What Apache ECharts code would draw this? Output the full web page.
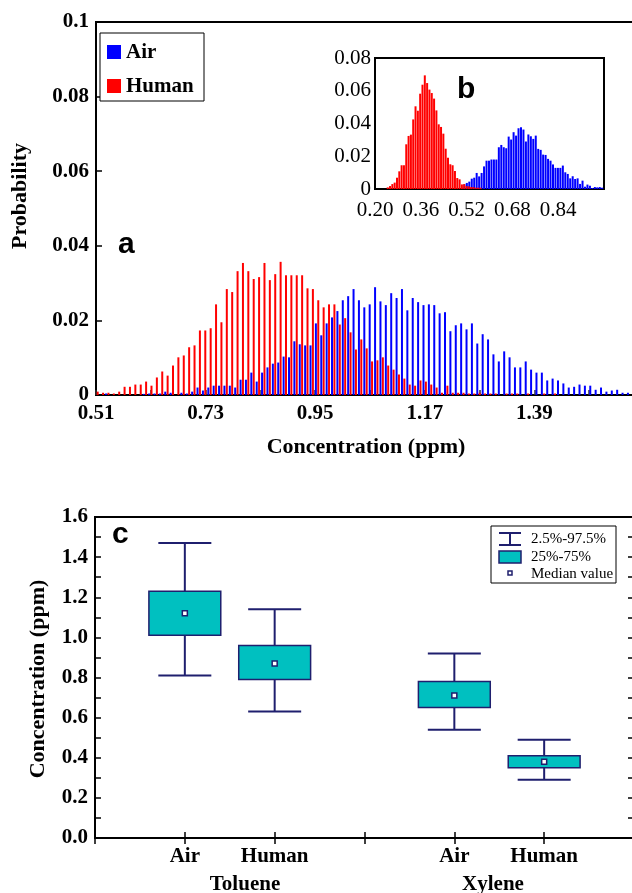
<!DOCTYPE html>
<html>
<head>
<meta charset="utf-8">
<script src="https://cdn.jsdelivr.net/npm/echarts@6/dist/echarts.min.js"></script>
<style>
html,body{margin:0;padding:0;background:#fff;}
#chart{width:632px;height:893px;}
</style>
</head>
<body>
<div id="chart"></div>
<script>
// ---------------- DATA ----------------
// Panel a: histogram bins (ppm) and probabilities
const binStartA = 0.511;
const binWidthA = 0.0108;
const humanA = [0.0009,0.0006,0.0006,0.0004,0.0009,0.0022,0.0022,0.0028,0.0028,0.0036,
  0.0025,0.0047,0.0063,0.0052,0.0079,0.0101,0.0106,0.0128,0.0133,0.0173,
  0.0173,0.0179,0.0243,0.0195,0.0284,0.0276,0.0332,0.0354,0.0332,0.0311,
  0.0316,0.0354,0.0308,0.0324,0.0357,0.0321,0.0321,0.0321,0.0321,0.0286,
  0.0284,0.0254,0.0235,0.0243,0.0243,0.0189,0.0206,0.0168,0.0122,0.0149,
  0.0125,0.0090,0.0093,0.0101,0.0079,0.0068,0.0055,0.0044,0.0028,0.0025,
  0.0039,0.0036,0.0028,0.0020,0.0006,0.0025,0.0006,0.0006,0.0006,0.0004,
  0.0004,0.0006,0.0004,0.0004,0.0004,0,0.0004,0.0004,0.0004,0,
  0.0004,0,0,0.0004,0,0.0004,0,0,0,0,
  0,0,0,0,0,0,0,0,0];
const airA = [0,0.0004,0,0,0,0,0,0,0.0003,0.0004,
  0.0004,0.0004,0.0009,0.0006,0,0.0006,0.0004,0.0009,0.0020,0.0012,
  0.0020,0.0025,0.0025,0.0025,0.0025,0.0020,0.0041,0.0041,0.0060,0.0036,
  0.0060,0.0074,0.0084,0.0087,0.0103,0.0101,0.0144,0.0136,0.0133,0.0133,
  0.0192,0.0160,0.0192,0.0208,0.0225,0.0254,0.0265,0.0284,0.0254,0.0235,
  0.0243,0.0289,0.0251,0.0241,0.0273,0.0260,0.0284,0.0227,0.0260,0.0249,
  0.0241,0.0243,0.0241,0.0219,0.0222,0.0171,0.0187,0.0192,0.0176,0.0192,
  0.0138,0.0163,0.0149,0.0109,0.0090,0.0117,0.0101,0.0074,0.0074,0.0090,
  0.0068,0.0060,0.0060,0.0039,0.0044,0.0039,0.0031,0.0020,0.0022,0.0028,
  0.0025,0.0025,0.0014,0.0020,0.0009,0.0012,0.0014,0.0006,0.0006];
const axisMinA = 0.51;

// Panel b (inset): histograms
const humanBStart = 0.2444, humanBWidth = 0.0081;
const humanB = [0.0010,0.0018,0.0030,0.0039,0.0069,0.0108,0.0145,0.0145,0.0273,0.0324,
  0.0332,0.0425,0.0505,0.0478,0.0582,0.0637,0.0694,0.0647,0.0607,0.0586,
  0.0552,0.0480,0.0395,0.0379,0.0338,0.0246,0.0191,0.0151,0.0145,0.0110,
  0.0067,0.0059,0.0028,0.0030,0.0018,0.0016,0.0012,0.0012,0.0008,0.0008,0.0008];
const airBStart = 0.5122, airBWidth = 0.0086;
const airB = [0.0028,0.0037,0.0045,0.0063,0.0069,0.0098,0.0077,0.0098,0.0138,0.0173,
  0.0173,0.0180,0.0180,0.0180,0.0255,0.0269,0.0255,0.0249,0.0320,0.0302,
  0.0347,0.0326,0.0371,0.0377,0.0363,0.0290,0.0333,0.0322,0.0306,0.0326,
  0.0245,0.0239,0.0210,0.0208,0.0184,0.0173,0.0150,0.0129,0.0129,0.0129,
  0.0143,0.0102,0.0092,0.0065,0.0078,0.0061,0.0065,0.0031,0.0051,0.0014,
  0.0027,0.0020,0.0006,0.0012,0.0010,0.0012,0.0008];
const axisMinB = 0.20;

// Panel c: box plot
const catsC = ['', 'Air', 'Human', '', 'Air', 'Human', ''];
const groupsC = ['Toluene', 'Xylene'];
// [category index, 2.5%, 25%, median, 75%, 97.5%]
const boxC = [
  [1, 0.81, 1.01, 1.12, 1.23, 1.47],
  [2, 0.63, 0.79, 0.87, 0.96, 1.14],
  [4, 0.54, 0.65, 0.71, 0.78, 0.92],
  [5, 0.29, 0.35, 0.38, 0.41, 0.49]
];
const legendC = ['2.5%-97.5%', '25%-75%', 'Median value'];

// ---------------- STYLE ----------------
const SERIF = '"Liberation Serif","Times New Roman",serif';
const SANS = '"Liberation Sans",Arial,sans-serif';
const RED = '#FF0000', BLUE = '#0000FF';
const NAVY = '#1F1F6E', TEAL = '#00C0C0';

const histA = (arr) => arr.map((v, i) => [binStartA + (i + 0.5) * binWidthA - axisMinA, v]).filter(d => d[1] > 0);
const histB = (arr, s, w) => arr.map((v, i) => [s + i * w - axisMinB, v]).filter(d => d[1] > 0);

function onTick(v, step) { return Math.abs(v / step - Math.round(v / step)) < 1e-6; }

const chart = echarts.init(document.getElementById('chart'), null, {renderer: 'canvas'});

function renderBox(params, api) {
  const x = api.value(0);
  const lo = api.coord([x, api.value(1)]);
  const q1 = api.coord([x, api.value(2)]);
  const md = api.coord([x, api.value(3)]);
  const q3 = api.coord([x, api.value(4)]);
  const hi = api.coord([x, api.value(5)]);
  const band = api.size([1, 0])[0];
  const bw = band * 0.80, cw = band * 0.59;
  const cx = lo[0];
  const ls = {stroke: NAVY, lineWidth: 2};
  return {type: 'group', children: [
    {type: 'line', shape: {x1: cx, y1: hi[1], x2: cx, y2: lo[1]}, style: ls},
    {type: 'line', shape: {x1: cx - cw / 2, y1: hi[1], x2: cx + cw / 2, y2: hi[1]}, style: ls},
    {type: 'line', shape: {x1: cx - cw / 2, y1: lo[1], x2: cx + cw / 2, y2: lo[1]}, style: ls},
    {type: 'rect', shape: {x: cx - bw / 2, y: q3[1], width: bw, height: q1[1] - q3[1]}, style: {fill: TEAL, stroke: NAVY, lineWidth: 1.5}},
    {type: 'rect', shape: {x: cx - 2.5, y: md[1] - 2.5, width: 5, height: 5}, style: {fill: '#fff', stroke: NAVY, lineWidth: 1.5}}
  ]};
}

const labelBold = {fontFamily: SERIF, fontWeight: 'bold', fontSize: 21, color: '#000'};
const TITLE_FONT = 'bold 22px ' + SERIF;

const option = {
  animation: false,
  backgroundColor: '#fff',
  grid: [
    {left: 96, top: 22, width: 538, height: 373, show: true, borderColor: '#000', borderWidth: 2, backgroundColor: 'transparent', outerBoundsMode: 'none', containLabel: false},
    {left: 375, top: 58, width: 229, height: 131, show: true, borderColor: '#000', borderWidth: 2, backgroundColor: '#fff', outerBoundsMode: 'none', containLabel: false, z: 5},
    {left: 95, top: 517, width: 539, height: 321, show: true, borderColor: '#000', borderWidth: 2, backgroundColor: 'transparent', outerBoundsMode: 'none', containLabel: false}
  ],
  xAxis: [
    {type: 'value', gridIndex: 0, min: 0, max: 1.08, interval: 0.11,
      axisLine: {lineStyle: {color: '#000', width: 2}},
      axisTick: {inside: true, length: 5, lineStyle: {color: '#333', width: 1.5}},
      splitLine: {show: false},
      axisLabel: {margin: 8, showMaxLabel: false, ...labelBold,
        formatter: v => (onTick(v, 0.22) ? (v + axisMinA).toFixed(2) : '')}},
    {type: 'value', gridIndex: 1, min: 0, max: 0.8, interval: 0.08,
      axisLine: {lineStyle: {color: '#000', width: 2}},
      axisTick: {inside: true, length: 5, lineStyle: {color: '#000', width: 1.5}},
      splitLine: {show: false},
      axisLabel: {margin: 11, showMaxLabel: false, fontFamily: SERIF, fontSize: 21, color: '#000',
        formatter: v => (onTick(v, 0.16) && v < 0.79 ? (v + axisMinB).toFixed(2) : '')}},
    {type: 'category', gridIndex: 2, data: catsC, boundaryGap: false,
      axisLine: {lineStyle: {color: '#000', width: 2}},
      axisTick: {inside: true, length: 6, interval: 0, lineStyle: {color: '#000', width: 1.5}},
      axisLabel: {interval: 0, margin: 8, ...labelBold}},
    {type: 'category', gridIndex: 2, data: catsC, boundaryGap: false, position: 'top',
      axisLine: {lineStyle: {color: '#000', width: 2}},
      axisTick: {inside: true, length: 6, interval: 0, lineStyle: {color: '#000', width: 1.5}},
      axisLabel: {show: false}}
  ],
  yAxis: [
    {type: 'value', gridIndex: 0, min: 0, max: 0.1, interval: 0.02,
      axisLine: {show: true, lineStyle: {color: '#000', width: 2}},
      axisTick: {show: true, inside: true, length: 6, lineStyle: {color: '#000', width: 1.5}},
      splitLine: {show: false},
      axisLabel: {margin: 7, ...labelBold}},
    {type: 'value', gridIndex: 1, min: 0, max: 0.08, interval: 0.02,
      axisLine: {show: true, lineStyle: {color: '#000', width: 2}},
      axisTick: {show: true, inside: true, length: 6, lineStyle: {color: '#000', width: 1.5}},
      splitLine: {show: false},
      axisLabel: {margin: 4, fontFamily: SERIF, fontSize: 21, color: '#000'}},
    {type: 'value', gridIndex: 2, min: 0, max: 1.6, interval: 0.1,
      axisLine: {show: true, lineStyle: {color: '#000', width: 2}},
      axisTick: {show: true, inside: true, length: 6, lineStyle: {color: '#000', width: 1.5}},
      splitLine: {show: false},
      axisLabel: {margin: 7, ...labelBold, formatter: v => (onTick(v, 0.2) ? v.toFixed(1) : '')}},
    {type: 'value', gridIndex: 2, min: 0, max: 1.6, interval: 0.1, position: 'right',
      axisLine: {show: true, lineStyle: {color: '#000', width: 2}},
      axisTick: {show: true, inside: true, length: 6, lineStyle: {color: '#000', width: 1.5}},
      splitLine: {show: false},
      axisLabel: {show: false}}
  ],
  series: [
    {name: 'Human', type: 'bar', xAxisIndex: 0, yAxisIndex: 0, data: histA(humanA), barWidth: 2, barGap: '50%', itemStyle: {color: RED}, z: 2},
    {name: 'Air', type: 'bar', xAxisIndex: 0, yAxisIndex: 0, data: histA(airA), barWidth: 2, barGap: '50%', itemStyle: {color: BLUE}, z: 2},
    {name: 'AirB', type: 'bar', xAxisIndex: 1, yAxisIndex: 1, data: histB(airB, airBStart, airBWidth), barWidth: 2, barGap: '-100%', itemStyle: {color: BLUE}, z: 6},
    {name: 'HumanB', type: 'bar', xAxisIndex: 1, yAxisIndex: 1, data: histB(humanB, humanBStart, humanBWidth), barWidth: 2, barGap: '-100%', itemStyle: {color: RED}, z: 6},
    {name: 'Box', type: 'custom', xAxisIndex: 2, yAxisIndex: 2, data: boxC, renderItem: renderBox, encode: {x: 0, y: [1, 2, 3, 4, 5]}, z: 3}
  ],
  graphic: [
    // panel a legend
    {type: 'rect', shape: {x: 100, y: 33, width: 104, height: 68}, style: {fill: '#fff', stroke: '#000', lineWidth: 1}, z: 10},
    {type: 'rect', shape: {x: 107, y: 45, width: 14, height: 14}, style: {fill: BLUE}, z: 11},
    {type: 'text', x: 126, y: 53, style: {text: 'Air', font: 'bold 21px ' + SERIF, fill: '#000', verticalAlign: 'middle'}, z: 11},
    {type: 'rect', shape: {x: 107, y: 79, width: 14, height: 14}, style: {fill: RED}, z: 11},
    {type: 'text', x: 126, y: 87, style: {text: 'Human', font: 'bold 21px ' + SERIF, fill: '#000', verticalAlign: 'middle'}, z: 11},
    // panel letters
    {type: 'text', x: 118, y: 245, style: {text: 'a', font: 'bold 30px ' + SANS, fill: '#000', verticalAlign: 'middle'}, z: 11},
    {type: 'text', x: 457, y: 90, style: {text: 'b', font: 'bold 30px ' + SANS, fill: '#000', verticalAlign: 'middle'}, z: 11},
    {type: 'text', x: 112, y: 535, style: {text: 'c', font: 'bold 30px ' + SANS, fill: '#000', verticalAlign: 'middle'}, z: 11},
    // axis titles
    {type: 'text', x: 20, y: 196, rotation: Math.PI / 2, style: {text: 'Probability', font: TITLE_FONT, fill: '#000', align: 'center', verticalAlign: 'middle'}, z: 11},
    {type: 'text', x: 366, y: 447, style: {text: 'Concentration (ppm)', font: TITLE_FONT, fill: '#000', align: 'center', verticalAlign: 'middle'}, z: 11},
    {type: 'text', x: 38, y: 679, rotation: Math.PI / 2, style: {text: 'Concentration (ppm)', font: TITLE_FONT, fill: '#000', align: 'center', verticalAlign: 'middle'}, z: 11},
    {type: 'text', x: 245, y: 885, style: {text: groupsC[0], font: 'bold 21px ' + SERIF, fill: '#000', align: 'center', verticalAlign: 'middle'}, z: 11},
    {type: 'text', x: 493, y: 885, style: {text: groupsC[1], font: 'bold 21px ' + SERIF, fill: '#000', align: 'center', verticalAlign: 'middle'}, z: 11},
    // panel c legend
    {type: 'rect', shape: {x: 491, y: 526, width: 125, height: 57}, style: {fill: '#fff', stroke: '#000', lineWidth: 1}, z: 10},
    {type: 'line', shape: {x1: 499, y1: 533, x2: 521, y2: 533}, style: {stroke: NAVY, lineWidth: 2}, z: 11},
    {type: 'line', shape: {x1: 499, y1: 545, x2: 521, y2: 545}, style: {stroke: NAVY, lineWidth: 2}, z: 11},
    {type: 'line', shape: {x1: 510, y1: 533, x2: 510, y2: 545}, style: {stroke: NAVY, lineWidth: 2}, z: 11},
    {type: 'text', x: 531, y: 539, style: {text: legendC[0], font: '15px ' + SERIF, fill: '#000', verticalAlign: 'middle'}, z: 11},
    {type: 'rect', shape: {x: 499, y: 551, width: 22, height: 12}, style: {fill: TEAL, stroke: NAVY, lineWidth: 1.5}, z: 11},
    {type: 'text', x: 531, y: 557, style: {text: legendC[1], font: '15px ' + SERIF, fill: '#000', verticalAlign: 'middle'}, z: 11},
    {type: 'rect', shape: {x: 508, y: 571, width: 4, height: 4}, style: {fill: '#fff', stroke: NAVY, lineWidth: 1.5}, z: 11},
    {type: 'text', x: 531, y: 574, style: {text: legendC[2], font: '15px ' + SERIF, fill: '#000', verticalAlign: 'middle'}, z: 11}
  ]
};
chart.setOption(option);
</script>
</body>
</html>
